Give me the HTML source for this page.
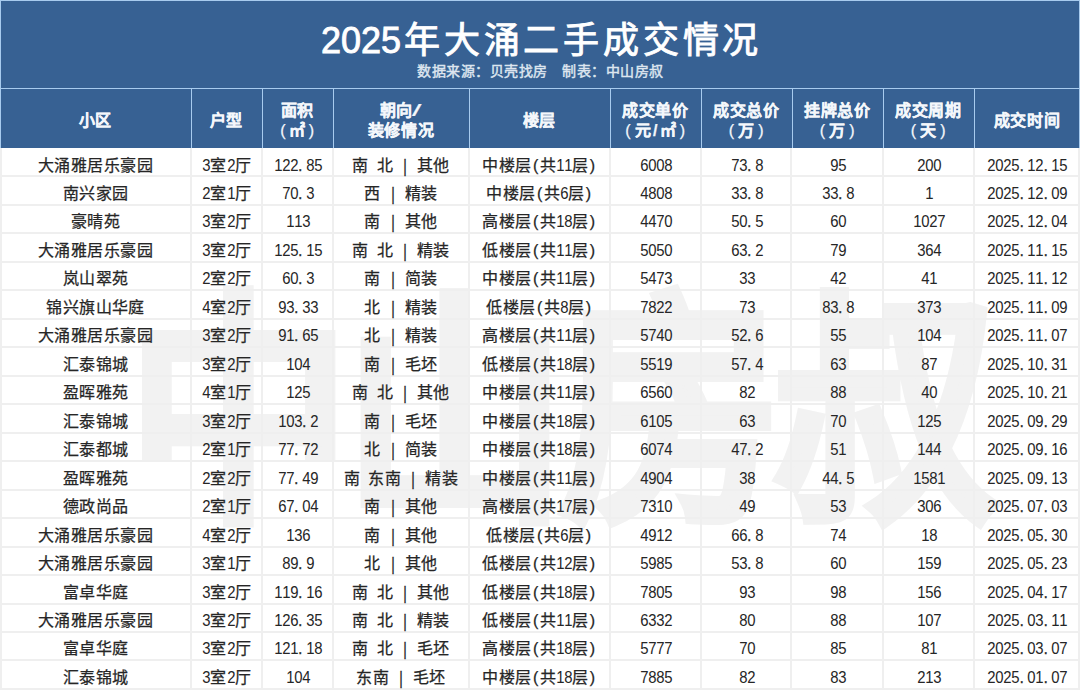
<!DOCTYPE html>
<html lang="zh-CN"><head><meta charset="utf-8">
<style>
*{margin:0;padding:0;box-sizing:border-box}
html,body{width:1080px;height:690px;overflow:hidden;background:#fff}
body{position:relative;font-family:"Liberation Sans",sans-serif;text-spacing-trim:space-all}
.top{position:absolute;left:0;top:0;width:1080px;height:148px;background:#376193}
.title{position:absolute;left:321px;top:17px;white-space:nowrap;color:#fff;font-size:36px;font-weight:400;-webkit-text-stroke:0.9px #fff;line-height:48px}
.tc{letter-spacing:3.8px;margin-left:3px}
.sub{position:absolute;left:0;width:1080px;top:60.8px;text-align:center;color:#dde5ef;-webkit-text-stroke:0.45px #dde5ef;font-size:14px;font-weight:500;line-height:20px;letter-spacing:0.5px;padding-left:0.5px}
.hl{position:absolute;background:#a8cbee}
.h{position:absolute;top:89px;height:59px;display:flex;align-items:center;justify-content:center;text-align:center;color:#f4f7fb;font-weight:bold;-webkit-text-stroke:0.25px #f4f7fb;font-size:16px;line-height:19.5px;letter-spacing:0.7px;padding-top:4.5px}
.gl{position:absolute;background:#efefef}
.c{position:absolute;text-align:center;color:#262626;-webkit-text-stroke:0.25px #262626;font-size:16px;line-height:28px;white-space:nowrap;padding-top:3px}
.d{display:inline-block;width:8px;text-align:center;transform:scaleX(.93);-webkit-text-stroke:0px #262626}
.k{letter-spacing:0.4px}
.hw{display:inline-block;width:8px;text-align:center}
.br{transform:scale(.85,1.15);font-weight:normal}
.sl{display:inline-block;width:9px;font-weight:normal;text-align:center;transform:scaleX(2.1);-webkit-text-stroke:0.2px #f4f7fb}
.fp{display:inline-block;width:13px;text-align:center;font-weight:normal}
.dt{display:inline-block;width:8px;text-align:left;padding-left:0.5px}
.wm{position:absolute;left:127px;top:251px;height:300px;font-size:226px;line-height:300px;font-weight:bold;color:#f2f2f2;-webkit-text-stroke:6px #f2f2f2;letter-spacing:-8px;white-space:nowrap;transform:scale(.99,1.09);transform-origin:0 0}
</style></head><body>
<div class="top"></div>
<div class="wm">中山房叔</div>
<div class="title">2025<span class="tc">年大涌二手成交情况</span></div>
<div class="sub">数据来源：贝壳找房　制表：中山房叔</div>
<div class="hl" style="left:0;top:0;width:1080px;height:1px"></div>
<div class="hl" style="left:0;top:0;width:1px;height:148px"></div>
<div class="hl" style="left:1079px;top:0;width:1px;height:148px"></div>
<div class="hl" style="left:0;top:88px;width:1080px;height:1px"></div>
<div class="hl" style="left:191px;top:88px;width:1px;height:60px"></div>
<div class="hl" style="left:262px;top:88px;width:1px;height:60px"></div>
<div class="hl" style="left:333px;top:88px;width:1px;height:60px"></div>
<div class="hl" style="left:469px;top:88px;width:1px;height:60px"></div>
<div class="hl" style="left:610px;top:88px;width:1px;height:60px"></div>
<div class="hl" style="left:701px;top:88px;width:1px;height:60px"></div>
<div class="hl" style="left:792px;top:88px;width:1px;height:60px"></div>
<div class="hl" style="left:883px;top:88px;width:1px;height:60px"></div>
<div class="hl" style="left:974px;top:88px;width:1px;height:60px"></div>
<div class="h" style="left:0px;width:191px"><div>小区</div></div>
<div class="h" style="left:191px;width:71px"><div>户型</div></div>
<div class="h" style="left:262px;width:71px"><div>面积<br><span class=fp style=width:12px>(</span>㎡<span class=fp style=width:12px>)</span></div></div>
<div class="h" style="left:333px;width:136px"><div>朝向<span class=sl>/</span><br>装修情况</div></div>
<div class="h" style="left:469px;width:141px"><div>楼层</div></div>
<div class="h" style="left:610px;width:91px"><div>成交单价<br><span class=fp>(</span>元<span class=hw>/</span>㎡<span class=fp>)</span></div></div>
<div class="h" style="left:701px;width:91px"><div>成交总价<br><span class=fp>(</span>万<span class=fp>)</span></div></div>
<div class="h" style="left:792px;width:91px"><div>挂牌总价<br><span class=fp>(</span>万<span class=fp>)</span></div></div>
<div class="h" style="left:883px;width:91px"><div>成交周期<br><span class=fp>(</span>天<span class=fp>)</span></div></div>
<div class="h" style="left:974px;width:106px"><div>成交时间</div></div>
<div class="gl" style="left:0;top:175px;width:1080px;height:2px"></div>
<div class="gl" style="left:0;top:204px;width:1080px;height:2px"></div>
<div class="gl" style="left:0;top:232px;width:1080px;height:2px"></div>
<div class="gl" style="left:0;top:261px;width:1080px;height:2px"></div>
<div class="gl" style="left:0;top:289px;width:1080px;height:2px"></div>
<div class="gl" style="left:0;top:318px;width:1080px;height:2px"></div>
<div class="gl" style="left:0;top:346px;width:1080px;height:2px"></div>
<div class="gl" style="left:0;top:375px;width:1080px;height:2px"></div>
<div class="gl" style="left:0;top:403px;width:1080px;height:2px"></div>
<div class="gl" style="left:0;top:432px;width:1080px;height:2px"></div>
<div class="gl" style="left:0;top:460px;width:1080px;height:2px"></div>
<div class="gl" style="left:0;top:489px;width:1080px;height:2px"></div>
<div class="gl" style="left:0;top:517px;width:1080px;height:2px"></div>
<div class="gl" style="left:0;top:546px;width:1080px;height:2px"></div>
<div class="gl" style="left:0;top:574px;width:1080px;height:2px"></div>
<div class="gl" style="left:0;top:603px;width:1080px;height:2px"></div>
<div class="gl" style="left:0;top:631px;width:1080px;height:2px"></div>
<div class="gl" style="left:0;top:659px;width:1080px;height:2px"></div>
<div class="gl" style="left:0;top:688px;width:1080px;height:2px"></div>
<div class="gl" style="left:0px;top:148px;width:2px;height:542px"></div>
<div class="gl" style="left:190px;top:148px;width:2px;height:542px"></div>
<div class="gl" style="left:261px;top:148px;width:2px;height:542px"></div>
<div class="gl" style="left:332px;top:148px;width:2px;height:542px"></div>
<div class="gl" style="left:468px;top:148px;width:2px;height:542px"></div>
<div class="gl" style="left:609px;top:148px;width:2px;height:542px"></div>
<div class="gl" style="left:700px;top:148px;width:2px;height:542px"></div>
<div class="gl" style="left:790px;top:148px;width:2px;height:542px"></div>
<div class="gl" style="left:882px;top:148px;width:2px;height:542px"></div>
<div class="gl" style="left:973px;top:148px;width:2px;height:542px"></div>
<div class="gl" style="left:1078px;top:148px;width:2px;height:542px"></div>
<div class="c" style="left:0px;width:191px;top:148.50px"><span class="k">大</span><span class="k">涌</span><span class="k">雅</span><span class="k">居</span><span class="k">乐</span><span class="k">豪</span><span class="k">园</span></div>
<div class="c" style="left:191px;width:71px;top:148.50px"><span class="d">3</span><span class="k">室</span><span class="d">2</span><span class="k">厅</span></div>
<div class="c" style="left:262px;width:71px;top:148.50px"><span class="d">1</span><span class="d">2</span><span class="d">2</span><span class="dt">.</span><span class="d">8</span><span class="d">5</span></div>
<div class="c" style="left:333px;width:136px;top:148.50px"><span class="k">南</span><span class="hw"> </span><span class="k">北</span><span class="hw"> </span><span class="hw br">|</span><span class="hw"> </span><span class="k">其</span><span class="k">他</span></div>
<div class="c" style="left:469px;width:141px;top:148.50px"><span class="k">中</span><span class="k">楼</span><span class="k">层</span><span class="hw">(</span><span class="k">共</span><span class="d">1</span><span class="d">1</span><span class="k">层</span><span class="hw">)</span></div>
<div class="c" style="left:610px;width:91px;top:148.50px"><span class="d">6</span><span class="d">0</span><span class="d">0</span><span class="d">8</span></div>
<div class="c" style="left:701px;width:91px;top:148.50px"><span class="d">7</span><span class="d">3</span><span class="dt">.</span><span class="d">8</span></div>
<div class="c" style="left:792px;width:91px;top:148.50px"><span class="d">9</span><span class="d">5</span></div>
<div class="c" style="left:883px;width:91px;top:148.50px"><span class="d">2</span><span class="d">0</span><span class="d">0</span></div>
<div class="c" style="left:974px;width:106px;top:148.50px"><span class="d">2</span><span class="d">0</span><span class="d">2</span><span class="d">5</span><span class="dt">.</span><span class="d">1</span><span class="d">2</span><span class="dt">.</span><span class="d">1</span><span class="d">5</span></div>
<div class="c" style="left:0px;width:191px;top:176.97px"><span class="k">南</span><span class="k">兴</span><span class="k">家</span><span class="k">园</span></div>
<div class="c" style="left:191px;width:71px;top:176.97px"><span class="d">2</span><span class="k">室</span><span class="d">1</span><span class="k">厅</span></div>
<div class="c" style="left:262px;width:71px;top:176.97px"><span class="d">7</span><span class="d">0</span><span class="dt">.</span><span class="d">3</span></div>
<div class="c" style="left:333px;width:136px;top:176.97px"><span class="k">西</span><span class="hw"> </span><span class="hw br">|</span><span class="hw"> </span><span class="k">精</span><span class="k">装</span></div>
<div class="c" style="left:469px;width:141px;top:176.97px"><span class="k">中</span><span class="k">楼</span><span class="k">层</span><span class="hw">(</span><span class="k">共</span><span class="d">6</span><span class="k">层</span><span class="hw">)</span></div>
<div class="c" style="left:610px;width:91px;top:176.97px"><span class="d">4</span><span class="d">8</span><span class="d">0</span><span class="d">8</span></div>
<div class="c" style="left:701px;width:91px;top:176.97px"><span class="d">3</span><span class="d">3</span><span class="dt">.</span><span class="d">8</span></div>
<div class="c" style="left:792px;width:91px;top:176.97px"><span class="d">3</span><span class="d">3</span><span class="dt">.</span><span class="d">8</span></div>
<div class="c" style="left:883px;width:91px;top:176.97px"><span class="d">1</span></div>
<div class="c" style="left:974px;width:106px;top:176.97px"><span class="d">2</span><span class="d">0</span><span class="d">2</span><span class="d">5</span><span class="dt">.</span><span class="d">1</span><span class="d">2</span><span class="dt">.</span><span class="d">0</span><span class="d">9</span></div>
<div class="c" style="left:0px;width:191px;top:205.44px"><span class="k">豪</span><span class="k">晴</span><span class="k">苑</span></div>
<div class="c" style="left:191px;width:71px;top:205.44px"><span class="d">3</span><span class="k">室</span><span class="d">2</span><span class="k">厅</span></div>
<div class="c" style="left:262px;width:71px;top:205.44px"><span class="d">1</span><span class="d">1</span><span class="d">3</span></div>
<div class="c" style="left:333px;width:136px;top:205.44px"><span class="k">南</span><span class="hw"> </span><span class="hw br">|</span><span class="hw"> </span><span class="k">其</span><span class="k">他</span></div>
<div class="c" style="left:469px;width:141px;top:205.44px"><span class="k">高</span><span class="k">楼</span><span class="k">层</span><span class="hw">(</span><span class="k">共</span><span class="d">1</span><span class="d">8</span><span class="k">层</span><span class="hw">)</span></div>
<div class="c" style="left:610px;width:91px;top:205.44px"><span class="d">4</span><span class="d">4</span><span class="d">7</span><span class="d">0</span></div>
<div class="c" style="left:701px;width:91px;top:205.44px"><span class="d">5</span><span class="d">0</span><span class="dt">.</span><span class="d">5</span></div>
<div class="c" style="left:792px;width:91px;top:205.44px"><span class="d">6</span><span class="d">0</span></div>
<div class="c" style="left:883px;width:91px;top:205.44px"><span class="d">1</span><span class="d">0</span><span class="d">2</span><span class="d">7</span></div>
<div class="c" style="left:974px;width:106px;top:205.44px"><span class="d">2</span><span class="d">0</span><span class="d">2</span><span class="d">5</span><span class="dt">.</span><span class="d">1</span><span class="d">2</span><span class="dt">.</span><span class="d">0</span><span class="d">4</span></div>
<div class="c" style="left:0px;width:191px;top:233.91px"><span class="k">大</span><span class="k">涌</span><span class="k">雅</span><span class="k">居</span><span class="k">乐</span><span class="k">豪</span><span class="k">园</span></div>
<div class="c" style="left:191px;width:71px;top:233.91px"><span class="d">3</span><span class="k">室</span><span class="d">2</span><span class="k">厅</span></div>
<div class="c" style="left:262px;width:71px;top:233.91px"><span class="d">1</span><span class="d">2</span><span class="d">5</span><span class="dt">.</span><span class="d">1</span><span class="d">5</span></div>
<div class="c" style="left:333px;width:136px;top:233.91px"><span class="k">南</span><span class="hw"> </span><span class="k">北</span><span class="hw"> </span><span class="hw br">|</span><span class="hw"> </span><span class="k">精</span><span class="k">装</span></div>
<div class="c" style="left:469px;width:141px;top:233.91px"><span class="k">低</span><span class="k">楼</span><span class="k">层</span><span class="hw">(</span><span class="k">共</span><span class="d">1</span><span class="d">1</span><span class="k">层</span><span class="hw">)</span></div>
<div class="c" style="left:610px;width:91px;top:233.91px"><span class="d">5</span><span class="d">0</span><span class="d">5</span><span class="d">0</span></div>
<div class="c" style="left:701px;width:91px;top:233.91px"><span class="d">6</span><span class="d">3</span><span class="dt">.</span><span class="d">2</span></div>
<div class="c" style="left:792px;width:91px;top:233.91px"><span class="d">7</span><span class="d">9</span></div>
<div class="c" style="left:883px;width:91px;top:233.91px"><span class="d">3</span><span class="d">6</span><span class="d">4</span></div>
<div class="c" style="left:974px;width:106px;top:233.91px"><span class="d">2</span><span class="d">0</span><span class="d">2</span><span class="d">5</span><span class="dt">.</span><span class="d">1</span><span class="d">1</span><span class="dt">.</span><span class="d">1</span><span class="d">5</span></div>
<div class="c" style="left:0px;width:191px;top:262.38px"><span class="k">岚</span><span class="k">山</span><span class="k">翠</span><span class="k">苑</span></div>
<div class="c" style="left:191px;width:71px;top:262.38px"><span class="d">2</span><span class="k">室</span><span class="d">2</span><span class="k">厅</span></div>
<div class="c" style="left:262px;width:71px;top:262.38px"><span class="d">6</span><span class="d">0</span><span class="dt">.</span><span class="d">3</span></div>
<div class="c" style="left:333px;width:136px;top:262.38px"><span class="k">南</span><span class="hw"> </span><span class="hw br">|</span><span class="hw"> </span><span class="k">简</span><span class="k">装</span></div>
<div class="c" style="left:469px;width:141px;top:262.38px"><span class="k">中</span><span class="k">楼</span><span class="k">层</span><span class="hw">(</span><span class="k">共</span><span class="d">1</span><span class="d">1</span><span class="k">层</span><span class="hw">)</span></div>
<div class="c" style="left:610px;width:91px;top:262.38px"><span class="d">5</span><span class="d">4</span><span class="d">7</span><span class="d">3</span></div>
<div class="c" style="left:701px;width:91px;top:262.38px"><span class="d">3</span><span class="d">3</span></div>
<div class="c" style="left:792px;width:91px;top:262.38px"><span class="d">4</span><span class="d">2</span></div>
<div class="c" style="left:883px;width:91px;top:262.38px"><span class="d">4</span><span class="d">1</span></div>
<div class="c" style="left:974px;width:106px;top:262.38px"><span class="d">2</span><span class="d">0</span><span class="d">2</span><span class="d">5</span><span class="dt">.</span><span class="d">1</span><span class="d">1</span><span class="dt">.</span><span class="d">1</span><span class="d">2</span></div>
<div class="c" style="left:0px;width:191px;top:290.85px"><span class="k">锦</span><span class="k">兴</span><span class="k">旗</span><span class="k">山</span><span class="k">华</span><span class="k">庭</span></div>
<div class="c" style="left:191px;width:71px;top:290.85px"><span class="d">4</span><span class="k">室</span><span class="d">2</span><span class="k">厅</span></div>
<div class="c" style="left:262px;width:71px;top:290.85px"><span class="d">9</span><span class="d">3</span><span class="dt">.</span><span class="d">3</span><span class="d">3</span></div>
<div class="c" style="left:333px;width:136px;top:290.85px"><span class="k">北</span><span class="hw"> </span><span class="hw br">|</span><span class="hw"> </span><span class="k">精</span><span class="k">装</span></div>
<div class="c" style="left:469px;width:141px;top:290.85px"><span class="k">低</span><span class="k">楼</span><span class="k">层</span><span class="hw">(</span><span class="k">共</span><span class="d">8</span><span class="k">层</span><span class="hw">)</span></div>
<div class="c" style="left:610px;width:91px;top:290.85px"><span class="d">7</span><span class="d">8</span><span class="d">2</span><span class="d">2</span></div>
<div class="c" style="left:701px;width:91px;top:290.85px"><span class="d">7</span><span class="d">3</span></div>
<div class="c" style="left:792px;width:91px;top:290.85px"><span class="d">8</span><span class="d">3</span><span class="dt">.</span><span class="d">8</span></div>
<div class="c" style="left:883px;width:91px;top:290.85px"><span class="d">3</span><span class="d">7</span><span class="d">3</span></div>
<div class="c" style="left:974px;width:106px;top:290.85px"><span class="d">2</span><span class="d">0</span><span class="d">2</span><span class="d">5</span><span class="dt">.</span><span class="d">1</span><span class="d">1</span><span class="dt">.</span><span class="d">0</span><span class="d">9</span></div>
<div class="c" style="left:0px;width:191px;top:319.32px"><span class="k">大</span><span class="k">涌</span><span class="k">雅</span><span class="k">居</span><span class="k">乐</span><span class="k">豪</span><span class="k">园</span></div>
<div class="c" style="left:191px;width:71px;top:319.32px"><span class="d">3</span><span class="k">室</span><span class="d">2</span><span class="k">厅</span></div>
<div class="c" style="left:262px;width:71px;top:319.32px"><span class="d">9</span><span class="d">1</span><span class="dt">.</span><span class="d">6</span><span class="d">5</span></div>
<div class="c" style="left:333px;width:136px;top:319.32px"><span class="k">北</span><span class="hw"> </span><span class="hw br">|</span><span class="hw"> </span><span class="k">精</span><span class="k">装</span></div>
<div class="c" style="left:469px;width:141px;top:319.32px"><span class="k">高</span><span class="k">楼</span><span class="k">层</span><span class="hw">(</span><span class="k">共</span><span class="d">1</span><span class="d">1</span><span class="k">层</span><span class="hw">)</span></div>
<div class="c" style="left:610px;width:91px;top:319.32px"><span class="d">5</span><span class="d">7</span><span class="d">4</span><span class="d">0</span></div>
<div class="c" style="left:701px;width:91px;top:319.32px"><span class="d">5</span><span class="d">2</span><span class="dt">.</span><span class="d">6</span></div>
<div class="c" style="left:792px;width:91px;top:319.32px"><span class="d">5</span><span class="d">5</span></div>
<div class="c" style="left:883px;width:91px;top:319.32px"><span class="d">1</span><span class="d">0</span><span class="d">4</span></div>
<div class="c" style="left:974px;width:106px;top:319.32px"><span class="d">2</span><span class="d">0</span><span class="d">2</span><span class="d">5</span><span class="dt">.</span><span class="d">1</span><span class="d">1</span><span class="dt">.</span><span class="d">0</span><span class="d">7</span></div>
<div class="c" style="left:0px;width:191px;top:347.79px"><span class="k">汇</span><span class="k">泰</span><span class="k">锦</span><span class="k">城</span></div>
<div class="c" style="left:191px;width:71px;top:347.79px"><span class="d">3</span><span class="k">室</span><span class="d">2</span><span class="k">厅</span></div>
<div class="c" style="left:262px;width:71px;top:347.79px"><span class="d">1</span><span class="d">0</span><span class="d">4</span></div>
<div class="c" style="left:333px;width:136px;top:347.79px"><span class="k">南</span><span class="hw"> </span><span class="hw br">|</span><span class="hw"> </span><span class="k">毛</span><span class="k">坯</span></div>
<div class="c" style="left:469px;width:141px;top:347.79px"><span class="k">低</span><span class="k">楼</span><span class="k">层</span><span class="hw">(</span><span class="k">共</span><span class="d">1</span><span class="d">8</span><span class="k">层</span><span class="hw">)</span></div>
<div class="c" style="left:610px;width:91px;top:347.79px"><span class="d">5</span><span class="d">5</span><span class="d">1</span><span class="d">9</span></div>
<div class="c" style="left:701px;width:91px;top:347.79px"><span class="d">5</span><span class="d">7</span><span class="dt">.</span><span class="d">4</span></div>
<div class="c" style="left:792px;width:91px;top:347.79px"><span class="d">6</span><span class="d">3</span></div>
<div class="c" style="left:883px;width:91px;top:347.79px"><span class="d">8</span><span class="d">7</span></div>
<div class="c" style="left:974px;width:106px;top:347.79px"><span class="d">2</span><span class="d">0</span><span class="d">2</span><span class="d">5</span><span class="dt">.</span><span class="d">1</span><span class="d">0</span><span class="dt">.</span><span class="d">3</span><span class="d">1</span></div>
<div class="c" style="left:0px;width:191px;top:376.26px"><span class="k">盈</span><span class="k">晖</span><span class="k">雅</span><span class="k">苑</span></div>
<div class="c" style="left:191px;width:71px;top:376.26px"><span class="d">4</span><span class="k">室</span><span class="d">1</span><span class="k">厅</span></div>
<div class="c" style="left:262px;width:71px;top:376.26px"><span class="d">1</span><span class="d">2</span><span class="d">5</span></div>
<div class="c" style="left:333px;width:136px;top:376.26px"><span class="k">南</span><span class="hw"> </span><span class="k">北</span><span class="hw"> </span><span class="hw br">|</span><span class="hw"> </span><span class="k">其</span><span class="k">他</span></div>
<div class="c" style="left:469px;width:141px;top:376.26px"><span class="k">中</span><span class="k">楼</span><span class="k">层</span><span class="hw">(</span><span class="k">共</span><span class="d">1</span><span class="d">1</span><span class="k">层</span><span class="hw">)</span></div>
<div class="c" style="left:610px;width:91px;top:376.26px"><span class="d">6</span><span class="d">5</span><span class="d">6</span><span class="d">0</span></div>
<div class="c" style="left:701px;width:91px;top:376.26px"><span class="d">8</span><span class="d">2</span></div>
<div class="c" style="left:792px;width:91px;top:376.26px"><span class="d">8</span><span class="d">8</span></div>
<div class="c" style="left:883px;width:91px;top:376.26px"><span class="d">4</span><span class="d">0</span></div>
<div class="c" style="left:974px;width:106px;top:376.26px"><span class="d">2</span><span class="d">0</span><span class="d">2</span><span class="d">5</span><span class="dt">.</span><span class="d">1</span><span class="d">0</span><span class="dt">.</span><span class="d">2</span><span class="d">1</span></div>
<div class="c" style="left:0px;width:191px;top:404.73px"><span class="k">汇</span><span class="k">泰</span><span class="k">锦</span><span class="k">城</span></div>
<div class="c" style="left:191px;width:71px;top:404.73px"><span class="d">3</span><span class="k">室</span><span class="d">2</span><span class="k">厅</span></div>
<div class="c" style="left:262px;width:71px;top:404.73px"><span class="d">1</span><span class="d">0</span><span class="d">3</span><span class="dt">.</span><span class="d">2</span></div>
<div class="c" style="left:333px;width:136px;top:404.73px"><span class="k">南</span><span class="hw"> </span><span class="hw br">|</span><span class="hw"> </span><span class="k">毛</span><span class="k">坯</span></div>
<div class="c" style="left:469px;width:141px;top:404.73px"><span class="k">中</span><span class="k">楼</span><span class="k">层</span><span class="hw">(</span><span class="k">共</span><span class="d">1</span><span class="d">8</span><span class="k">层</span><span class="hw">)</span></div>
<div class="c" style="left:610px;width:91px;top:404.73px"><span class="d">6</span><span class="d">1</span><span class="d">0</span><span class="d">5</span></div>
<div class="c" style="left:701px;width:91px;top:404.73px"><span class="d">6</span><span class="d">3</span></div>
<div class="c" style="left:792px;width:91px;top:404.73px"><span class="d">7</span><span class="d">0</span></div>
<div class="c" style="left:883px;width:91px;top:404.73px"><span class="d">1</span><span class="d">2</span><span class="d">5</span></div>
<div class="c" style="left:974px;width:106px;top:404.73px"><span class="d">2</span><span class="d">0</span><span class="d">2</span><span class="d">5</span><span class="dt">.</span><span class="d">0</span><span class="d">9</span><span class="dt">.</span><span class="d">2</span><span class="d">9</span></div>
<div class="c" style="left:0px;width:191px;top:433.20px"><span class="k">汇</span><span class="k">泰</span><span class="k">都</span><span class="k">城</span></div>
<div class="c" style="left:191px;width:71px;top:433.20px"><span class="d">2</span><span class="k">室</span><span class="d">1</span><span class="k">厅</span></div>
<div class="c" style="left:262px;width:71px;top:433.20px"><span class="d">7</span><span class="d">7</span><span class="dt">.</span><span class="d">7</span><span class="d">2</span></div>
<div class="c" style="left:333px;width:136px;top:433.20px"><span class="k">北</span><span class="hw"> </span><span class="hw br">|</span><span class="hw"> </span><span class="k">简</span><span class="k">装</span></div>
<div class="c" style="left:469px;width:141px;top:433.20px"><span class="k">中</span><span class="k">楼</span><span class="k">层</span><span class="hw">(</span><span class="k">共</span><span class="d">1</span><span class="d">8</span><span class="k">层</span><span class="hw">)</span></div>
<div class="c" style="left:610px;width:91px;top:433.20px"><span class="d">6</span><span class="d">0</span><span class="d">7</span><span class="d">4</span></div>
<div class="c" style="left:701px;width:91px;top:433.20px"><span class="d">4</span><span class="d">7</span><span class="dt">.</span><span class="d">2</span></div>
<div class="c" style="left:792px;width:91px;top:433.20px"><span class="d">5</span><span class="d">1</span></div>
<div class="c" style="left:883px;width:91px;top:433.20px"><span class="d">1</span><span class="d">4</span><span class="d">4</span></div>
<div class="c" style="left:974px;width:106px;top:433.20px"><span class="d">2</span><span class="d">0</span><span class="d">2</span><span class="d">5</span><span class="dt">.</span><span class="d">0</span><span class="d">9</span><span class="dt">.</span><span class="d">1</span><span class="d">6</span></div>
<div class="c" style="left:0px;width:191px;top:461.67px"><span class="k">盈</span><span class="k">晖</span><span class="k">雅</span><span class="k">苑</span></div>
<div class="c" style="left:191px;width:71px;top:461.67px"><span class="d">2</span><span class="k">室</span><span class="d">2</span><span class="k">厅</span></div>
<div class="c" style="left:262px;width:71px;top:461.67px"><span class="d">7</span><span class="d">7</span><span class="dt">.</span><span class="d">4</span><span class="d">9</span></div>
<div class="c" style="left:333px;width:136px;top:461.67px"><span class="k">南</span><span class="hw"> </span><span class="k">东</span><span class="k">南</span><span class="hw"> </span><span class="hw br">|</span><span class="hw"> </span><span class="k">精</span><span class="k">装</span></div>
<div class="c" style="left:469px;width:141px;top:461.67px"><span class="k">中</span><span class="k">楼</span><span class="k">层</span><span class="hw">(</span><span class="k">共</span><span class="d">1</span><span class="d">1</span><span class="k">层</span><span class="hw">)</span></div>
<div class="c" style="left:610px;width:91px;top:461.67px"><span class="d">4</span><span class="d">9</span><span class="d">0</span><span class="d">4</span></div>
<div class="c" style="left:701px;width:91px;top:461.67px"><span class="d">3</span><span class="d">8</span></div>
<div class="c" style="left:792px;width:91px;top:461.67px"><span class="d">4</span><span class="d">4</span><span class="dt">.</span><span class="d">5</span></div>
<div class="c" style="left:883px;width:91px;top:461.67px"><span class="d">1</span><span class="d">5</span><span class="d">8</span><span class="d">1</span></div>
<div class="c" style="left:974px;width:106px;top:461.67px"><span class="d">2</span><span class="d">0</span><span class="d">2</span><span class="d">5</span><span class="dt">.</span><span class="d">0</span><span class="d">9</span><span class="dt">.</span><span class="d">1</span><span class="d">3</span></div>
<div class="c" style="left:0px;width:191px;top:490.14px"><span class="k">德</span><span class="k">政</span><span class="k">尚</span><span class="k">品</span></div>
<div class="c" style="left:191px;width:71px;top:490.14px"><span class="d">2</span><span class="k">室</span><span class="d">1</span><span class="k">厅</span></div>
<div class="c" style="left:262px;width:71px;top:490.14px"><span class="d">6</span><span class="d">7</span><span class="dt">.</span><span class="d">0</span><span class="d">4</span></div>
<div class="c" style="left:333px;width:136px;top:490.14px"><span class="k">南</span><span class="hw"> </span><span class="hw br">|</span><span class="hw"> </span><span class="k">其</span><span class="k">他</span></div>
<div class="c" style="left:469px;width:141px;top:490.14px"><span class="k">高</span><span class="k">楼</span><span class="k">层</span><span class="hw">(</span><span class="k">共</span><span class="d">1</span><span class="d">7</span><span class="k">层</span><span class="hw">)</span></div>
<div class="c" style="left:610px;width:91px;top:490.14px"><span class="d">7</span><span class="d">3</span><span class="d">1</span><span class="d">0</span></div>
<div class="c" style="left:701px;width:91px;top:490.14px"><span class="d">4</span><span class="d">9</span></div>
<div class="c" style="left:792px;width:91px;top:490.14px"><span class="d">5</span><span class="d">3</span></div>
<div class="c" style="left:883px;width:91px;top:490.14px"><span class="d">3</span><span class="d">0</span><span class="d">6</span></div>
<div class="c" style="left:974px;width:106px;top:490.14px"><span class="d">2</span><span class="d">0</span><span class="d">2</span><span class="d">5</span><span class="dt">.</span><span class="d">0</span><span class="d">7</span><span class="dt">.</span><span class="d">0</span><span class="d">3</span></div>
<div class="c" style="left:0px;width:191px;top:518.61px"><span class="k">大</span><span class="k">涌</span><span class="k">雅</span><span class="k">居</span><span class="k">乐</span><span class="k">豪</span><span class="k">园</span></div>
<div class="c" style="left:191px;width:71px;top:518.61px"><span class="d">4</span><span class="k">室</span><span class="d">2</span><span class="k">厅</span></div>
<div class="c" style="left:262px;width:71px;top:518.61px"><span class="d">1</span><span class="d">3</span><span class="d">6</span></div>
<div class="c" style="left:333px;width:136px;top:518.61px"><span class="k">南</span><span class="hw"> </span><span class="hw br">|</span><span class="hw"> </span><span class="k">其</span><span class="k">他</span></div>
<div class="c" style="left:469px;width:141px;top:518.61px"><span class="k">低</span><span class="k">楼</span><span class="k">层</span><span class="hw">(</span><span class="k">共</span><span class="d">6</span><span class="k">层</span><span class="hw">)</span></div>
<div class="c" style="left:610px;width:91px;top:518.61px"><span class="d">4</span><span class="d">9</span><span class="d">1</span><span class="d">2</span></div>
<div class="c" style="left:701px;width:91px;top:518.61px"><span class="d">6</span><span class="d">6</span><span class="dt">.</span><span class="d">8</span></div>
<div class="c" style="left:792px;width:91px;top:518.61px"><span class="d">7</span><span class="d">4</span></div>
<div class="c" style="left:883px;width:91px;top:518.61px"><span class="d">1</span><span class="d">8</span></div>
<div class="c" style="left:974px;width:106px;top:518.61px"><span class="d">2</span><span class="d">0</span><span class="d">2</span><span class="d">5</span><span class="dt">.</span><span class="d">0</span><span class="d">5</span><span class="dt">.</span><span class="d">3</span><span class="d">0</span></div>
<div class="c" style="left:0px;width:191px;top:547.08px"><span class="k">大</span><span class="k">涌</span><span class="k">雅</span><span class="k">居</span><span class="k">乐</span><span class="k">豪</span><span class="k">园</span></div>
<div class="c" style="left:191px;width:71px;top:547.08px"><span class="d">3</span><span class="k">室</span><span class="d">1</span><span class="k">厅</span></div>
<div class="c" style="left:262px;width:71px;top:547.08px"><span class="d">8</span><span class="d">9</span><span class="dt">.</span><span class="d">9</span></div>
<div class="c" style="left:333px;width:136px;top:547.08px"><span class="k">北</span><span class="hw"> </span><span class="hw br">|</span><span class="hw"> </span><span class="k">其</span><span class="k">他</span></div>
<div class="c" style="left:469px;width:141px;top:547.08px"><span class="k">低</span><span class="k">楼</span><span class="k">层</span><span class="hw">(</span><span class="k">共</span><span class="d">1</span><span class="d">2</span><span class="k">层</span><span class="hw">)</span></div>
<div class="c" style="left:610px;width:91px;top:547.08px"><span class="d">5</span><span class="d">9</span><span class="d">8</span><span class="d">5</span></div>
<div class="c" style="left:701px;width:91px;top:547.08px"><span class="d">5</span><span class="d">3</span><span class="dt">.</span><span class="d">8</span></div>
<div class="c" style="left:792px;width:91px;top:547.08px"><span class="d">6</span><span class="d">0</span></div>
<div class="c" style="left:883px;width:91px;top:547.08px"><span class="d">1</span><span class="d">5</span><span class="d">9</span></div>
<div class="c" style="left:974px;width:106px;top:547.08px"><span class="d">2</span><span class="d">0</span><span class="d">2</span><span class="d">5</span><span class="dt">.</span><span class="d">0</span><span class="d">5</span><span class="dt">.</span><span class="d">2</span><span class="d">3</span></div>
<div class="c" style="left:0px;width:191px;top:575.55px"><span class="k">富</span><span class="k">卓</span><span class="k">华</span><span class="k">庭</span></div>
<div class="c" style="left:191px;width:71px;top:575.55px"><span class="d">3</span><span class="k">室</span><span class="d">2</span><span class="k">厅</span></div>
<div class="c" style="left:262px;width:71px;top:575.55px"><span class="d">1</span><span class="d">1</span><span class="d">9</span><span class="dt">.</span><span class="d">1</span><span class="d">6</span></div>
<div class="c" style="left:333px;width:136px;top:575.55px"><span class="k">南</span><span class="hw"> </span><span class="k">北</span><span class="hw"> </span><span class="hw br">|</span><span class="hw"> </span><span class="k">其</span><span class="k">他</span></div>
<div class="c" style="left:469px;width:141px;top:575.55px"><span class="k">低</span><span class="k">楼</span><span class="k">层</span><span class="hw">(</span><span class="k">共</span><span class="d">1</span><span class="d">8</span><span class="k">层</span><span class="hw">)</span></div>
<div class="c" style="left:610px;width:91px;top:575.55px"><span class="d">7</span><span class="d">8</span><span class="d">0</span><span class="d">5</span></div>
<div class="c" style="left:701px;width:91px;top:575.55px"><span class="d">9</span><span class="d">3</span></div>
<div class="c" style="left:792px;width:91px;top:575.55px"><span class="d">9</span><span class="d">8</span></div>
<div class="c" style="left:883px;width:91px;top:575.55px"><span class="d">1</span><span class="d">5</span><span class="d">6</span></div>
<div class="c" style="left:974px;width:106px;top:575.55px"><span class="d">2</span><span class="d">0</span><span class="d">2</span><span class="d">5</span><span class="dt">.</span><span class="d">0</span><span class="d">4</span><span class="dt">.</span><span class="d">1</span><span class="d">7</span></div>
<div class="c" style="left:0px;width:191px;top:604.02px"><span class="k">大</span><span class="k">涌</span><span class="k">雅</span><span class="k">居</span><span class="k">乐</span><span class="k">豪</span><span class="k">园</span></div>
<div class="c" style="left:191px;width:71px;top:604.02px"><span class="d">3</span><span class="k">室</span><span class="d">2</span><span class="k">厅</span></div>
<div class="c" style="left:262px;width:71px;top:604.02px"><span class="d">1</span><span class="d">2</span><span class="d">6</span><span class="dt">.</span><span class="d">3</span><span class="d">5</span></div>
<div class="c" style="left:333px;width:136px;top:604.02px"><span class="k">南</span><span class="hw"> </span><span class="k">北</span><span class="hw"> </span><span class="hw br">|</span><span class="hw"> </span><span class="k">精</span><span class="k">装</span></div>
<div class="c" style="left:469px;width:141px;top:604.02px"><span class="k">低</span><span class="k">楼</span><span class="k">层</span><span class="hw">(</span><span class="k">共</span><span class="d">1</span><span class="d">1</span><span class="k">层</span><span class="hw">)</span></div>
<div class="c" style="left:610px;width:91px;top:604.02px"><span class="d">6</span><span class="d">3</span><span class="d">3</span><span class="d">2</span></div>
<div class="c" style="left:701px;width:91px;top:604.02px"><span class="d">8</span><span class="d">0</span></div>
<div class="c" style="left:792px;width:91px;top:604.02px"><span class="d">8</span><span class="d">8</span></div>
<div class="c" style="left:883px;width:91px;top:604.02px"><span class="d">1</span><span class="d">0</span><span class="d">7</span></div>
<div class="c" style="left:974px;width:106px;top:604.02px"><span class="d">2</span><span class="d">0</span><span class="d">2</span><span class="d">5</span><span class="dt">.</span><span class="d">0</span><span class="d">3</span><span class="dt">.</span><span class="d">1</span><span class="d">1</span></div>
<div class="c" style="left:0px;width:191px;top:632.49px"><span class="k">富</span><span class="k">卓</span><span class="k">华</span><span class="k">庭</span></div>
<div class="c" style="left:191px;width:71px;top:632.49px"><span class="d">3</span><span class="k">室</span><span class="d">2</span><span class="k">厅</span></div>
<div class="c" style="left:262px;width:71px;top:632.49px"><span class="d">1</span><span class="d">2</span><span class="d">1</span><span class="dt">.</span><span class="d">1</span><span class="d">8</span></div>
<div class="c" style="left:333px;width:136px;top:632.49px"><span class="k">南</span><span class="hw"> </span><span class="k">北</span><span class="hw"> </span><span class="hw br">|</span><span class="hw"> </span><span class="k">毛</span><span class="k">坯</span></div>
<div class="c" style="left:469px;width:141px;top:632.49px"><span class="k">高</span><span class="k">楼</span><span class="k">层</span><span class="hw">(</span><span class="k">共</span><span class="d">1</span><span class="d">8</span><span class="k">层</span><span class="hw">)</span></div>
<div class="c" style="left:610px;width:91px;top:632.49px"><span class="d">5</span><span class="d">7</span><span class="d">7</span><span class="d">7</span></div>
<div class="c" style="left:701px;width:91px;top:632.49px"><span class="d">7</span><span class="d">0</span></div>
<div class="c" style="left:792px;width:91px;top:632.49px"><span class="d">8</span><span class="d">5</span></div>
<div class="c" style="left:883px;width:91px;top:632.49px"><span class="d">8</span><span class="d">1</span></div>
<div class="c" style="left:974px;width:106px;top:632.49px"><span class="d">2</span><span class="d">0</span><span class="d">2</span><span class="d">5</span><span class="dt">.</span><span class="d">0</span><span class="d">3</span><span class="dt">.</span><span class="d">0</span><span class="d">7</span></div>
<div class="c" style="left:0px;width:191px;top:660.96px"><span class="k">汇</span><span class="k">泰</span><span class="k">锦</span><span class="k">城</span></div>
<div class="c" style="left:191px;width:71px;top:660.96px"><span class="d">3</span><span class="k">室</span><span class="d">2</span><span class="k">厅</span></div>
<div class="c" style="left:262px;width:71px;top:660.96px"><span class="d">1</span><span class="d">0</span><span class="d">4</span></div>
<div class="c" style="left:333px;width:136px;top:660.96px"><span class="k">东</span><span class="k">南</span><span class="hw"> </span><span class="hw br">|</span><span class="hw"> </span><span class="k">毛</span><span class="k">坯</span></div>
<div class="c" style="left:469px;width:141px;top:660.96px"><span class="k">中</span><span class="k">楼</span><span class="k">层</span><span class="hw">(</span><span class="k">共</span><span class="d">1</span><span class="d">8</span><span class="k">层</span><span class="hw">)</span></div>
<div class="c" style="left:610px;width:91px;top:660.96px"><span class="d">7</span><span class="d">8</span><span class="d">8</span><span class="d">5</span></div>
<div class="c" style="left:701px;width:91px;top:660.96px"><span class="d">8</span><span class="d">2</span></div>
<div class="c" style="left:792px;width:91px;top:660.96px"><span class="d">8</span><span class="d">3</span></div>
<div class="c" style="left:883px;width:91px;top:660.96px"><span class="d">2</span><span class="d">1</span><span class="d">3</span></div>
<div class="c" style="left:974px;width:106px;top:660.96px"><span class="d">2</span><span class="d">0</span><span class="d">2</span><span class="d">5</span><span class="dt">.</span><span class="d">0</span><span class="d">1</span><span class="dt">.</span><span class="d">0</span><span class="d">7</span></div>
</body></html>
